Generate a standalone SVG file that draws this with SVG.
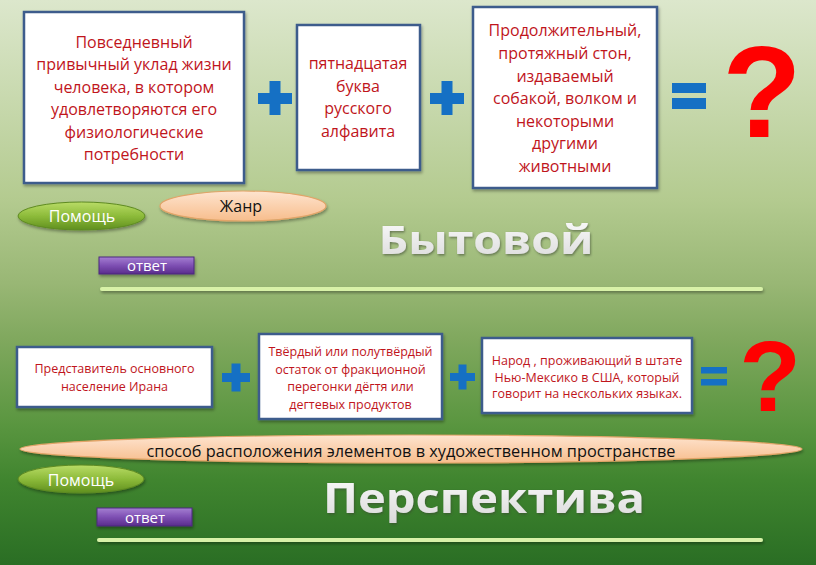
<svg xmlns="http://www.w3.org/2000/svg" width="816" height="565" viewBox="0 0 816 565">
<style>
.box{fill:#ffffff;stroke:#3d5b8c;stroke-width:2.5;filter:url(#sh)}
.bt{font-family:"Open Sans","Noto Sans","Liberation Sans",sans-serif;fill:#c0151c;text-anchor:middle}
.big{font-size:16px}
.sm{font-size:12.5px}
.op{fill:#1570c4}
.q{font-family:"Liberation Sans",Arial,sans-serif;font-weight:bold;fill:#ff0000;text-anchor:middle}
.help{fill:url(#gGreen);stroke:#5e8a22;stroke-width:1;filter:url(#sh)}
.peach{fill:url(#gPeach);stroke:#e2a468;stroke-width:1.2;filter:url(#sh)}
.ans{fill:url(#gPurple);stroke:#4b2a7c;stroke-width:1;filter:url(#sh)}
.wt{font-family:"Open Sans","Noto Sans","Liberation Sans",sans-serif;fill:#ffffff;text-anchor:middle}
.bk{font-family:"Open Sans","Noto Sans","Liberation Sans",sans-serif;fill:#111111;text-anchor:middle}
.title{font-family:"Open Sans","Noto Sans","Liberation Sans",sans-serif;font-weight:bold;fill:url(#gTitle);text-anchor:middle;filter:url(#tsh)}
.rule{fill:#d8f2a8;filter:url(#sh)}
</style>
<defs>
<linearGradient id="bg" x1="0" y1="0" x2="0" y2="1">
<stop offset="0" stop-color="#dce7cc"/>
<stop offset="0.35" stop-color="#b4cb90"/>
<stop offset="0.5" stop-color="#99b775"/>
<stop offset="0.6" stop-color="#80a85e"/>
<stop offset="0.75" stop-color="#5a9640"/>
<stop offset="0.85" stop-color="#40852f"/>
<stop offset="1" stop-color="#2a6e24"/>
</linearGradient>
<linearGradient id="gGreen" x1="0" y1="0" x2="0" y2="1">
<stop offset="0" stop-color="#b9dc66"/>
<stop offset="0.5" stop-color="#8dbb3a"/>
<stop offset="1" stop-color="#5f8f1e"/>
</linearGradient>
<linearGradient id="gPeach" x1="0" y1="0" x2="0" y2="1">
<stop offset="0" stop-color="#fee4cf"/>
<stop offset="1" stop-color="#f7bd8c"/>
</linearGradient>
<linearGradient id="gPurple" x1="0" y1="0" x2="0" y2="1">
<stop offset="0" stop-color="#a57fd2"/>
<stop offset="0.5" stop-color="#7e4fb3"/>
<stop offset="1" stop-color="#5a2d8c"/>
</linearGradient>
<linearGradient id="gTitle" x1="0" y1="0" x2="0" y2="1">
<stop offset="0" stop-color="#ffffff"/>
<stop offset="1" stop-color="#d8d8d8"/>
</linearGradient>
<filter id="sh" x="-20%" y="-50%" width="140%" height="250%">
<feDropShadow dx="1" dy="2" stdDeviation="1.5" flood-color="#000" flood-opacity="0.35"/>
</filter>
<filter id="tsh" x="-10%" y="-20%" width="120%" height="150%">
<feDropShadow dx="1" dy="1.5" stdDeviation="1.2" flood-color="#3a4a30" flood-opacity="0.6"/>
</filter>
</defs>
<rect width="816" height="565" fill="url(#bg)"/>

<g id="box1">
<rect class="box" x="24" y="12" width="220" height="171"/>
<text class="bt big"><tspan x="134" y="48">Повседневный</tspan><tspan x="134" y="70">привычный уклад жизни</tspan><tspan x="134" y="93">человека, в котором</tspan><tspan x="134" y="115">удовлетворяются его</tspan><tspan x="134" y="138">физиологические</tspan><tspan x="134" y="160">потребности</tspan></text>
</g>
<g id="box2">
<rect class="box" x="297" y="25" width="123" height="145"/>
<text class="bt big"><tspan x="358" y="69">пятнадцатая</tspan><tspan x="358" y="92">буква</tspan><tspan x="358" y="114">русского</tspan><tspan x="358" y="137">алфавита</tspan></text>
</g>
<g id="box3">
<rect class="box" x="473" y="7" width="184" height="181"/>
<text class="bt big"><tspan x="565" y="36">Продолжительный,</tspan><tspan x="565" y="59">протяжный стон,</tspan><tspan x="565" y="82">издаваемый</tspan><tspan x="565" y="104">собакой, волком и</tspan><tspan x="565" y="127">некоторыми</tspan><tspan x="565" y="149">другими</tspan><tspan x="565" y="172">животными</tspan></text>
</g>
<g id="plus1" class="op"><rect x="258" y="93" width="34" height="11"/><rect x="269.5" y="81" width="11" height="34"/></g>
<g id="plus2" class="op"><rect x="430" y="93" width="34" height="11"/><rect x="441.5" y="81" width="11" height="34"/></g>
<g id="eq1" class="op"><rect x="672" y="83" width="34" height="10"/><rect x="672" y="98" width="34" height="11"/></g>
<g id="q1"><text class="q" x="762" y="137" font-size="130">?</text></g>

<g id="help1"><ellipse class="help" cx="81.5" cy="216" rx="63.5" ry="14"/><text class="wt" x="82" y="222" font-size="16">Помощь</text></g>
<g id="genre"><ellipse class="peach" cx="243" cy="206" rx="83" ry="15"/><text class="bk" x="241" y="212" font-size="16">Жанр</text></g>
<g id="ans1"><rect class="ans" x="99" y="257" width="95" height="17"/><text class="wt" x="147" y="271" font-size="15">ответ</text></g>
<g id="title1"><text class="title" x="486" y="254" font-size="40" textLength="215" lengthAdjust="spacingAndGlyphs">Бытовой</text></g>
<g id="rule1"><rect class="rule" x="100" y="287" width="663" height="4" rx="2"/></g>

<g id="box4">
<rect class="box" x="17" y="347" width="195" height="60"/>
<text class="bt sm"><tspan x="114.5" y="373">Представитель основного</tspan><tspan x="114.5" y="391">население Ирана</tspan></text>
</g>
<g id="box5">
<rect class="box" x="259" y="334" width="183" height="85"/>
<text class="bt sm"><tspan x="350.5" y="356">Твёрдый или полутвёрдый</tspan><tspan x="350.5" y="374">остаток от фракционной</tspan><tspan x="350.5" y="391">перегонки дёгтя или</tspan><tspan x="350.5" y="409">дегтевых продуктов</tspan></text>
</g>
<g id="box6">
<rect class="box" x="482" y="338" width="210" height="75"/>
<text class="bt sm"><tspan x="587" y="365">Народ , проживающий в штате</tspan><tspan x="587" y="382">Нью-Мексико в США, который</tspan><tspan x="587" y="398">говорит на нескольких языках.</tspan></text>
</g>
<g id="plus3" class="op"><rect x="222" y="373" width="28" height="9"/><rect x="231.5" y="363.5" width="9" height="28"/></g>
<g id="plus4" class="op"><rect x="450" y="373" width="25" height="8"/><rect x="458.5" y="364.5" width="8" height="25"/></g>
<g id="eq2" class="op"><rect x="701" y="367" width="26" height="6.5"/><rect x="701" y="379" width="26" height="6.5"/></g>
<g id="q2"><text class="q" x="770" y="411" font-size="101">?</text></g>

<g id="hint2"><ellipse class="peach" cx="411" cy="449" rx="391" ry="14"/><text class="bk" x="411" y="457" font-size="17" textLength="529" lengthAdjust="spacingAndGlyphs">способ расположения элементов в художественном пространстве</text></g>
<g id="help2"><ellipse class="help" cx="81" cy="479" rx="63" ry="14"/><text class="wt" x="81" y="486" font-size="16">Помощь</text></g>
<g id="ans2"><rect class="ans" x="97" y="508" width="95" height="18"/><text class="wt" x="145" y="523" font-size="15">ответ</text></g>
<g id="title2"><text class="title" x="484" y="513" font-size="42" textLength="322" lengthAdjust="spacingAndGlyphs">Перспектива</text></g>
<g id="rule2"><rect class="rule" x="97" y="538" width="666" height="4" rx="2"/></g>
</svg>
